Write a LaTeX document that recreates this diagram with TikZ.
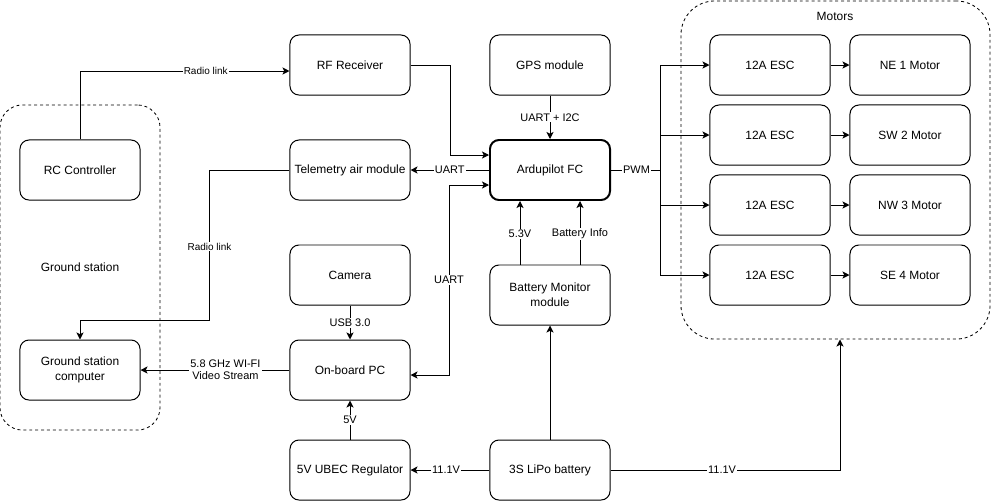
\documentclass[tikz,border=0pt]{standalone}
\usepackage{fontspec}
\setmainfont{Liberation Sans}
\usetikzlibrary{arrows.meta,calc}

\begin{document}
\begin{tikzpicture}[x=.025cm,y=-.025cm,>={Stealth[length=5pt,width=5pt,inset=1.2pt]},line width=.71pt,
  every node/.style={font=\fontsize{8.5}{10.7}\selectfont},
  box/.style={draw,rounded corners=6.4pt,minimum width=3cm,minimum height=1.5cm,inner sep=1pt,align=center},
  fcbox/.style={box,line width=1.4pt},
  group/.style={draw,dash pattern=on 2.1pt off 2.1pt,line width=.6pt,inner sep=0pt},
  lbl/.style={fill=white,inner sep=.8pt,align=center,font=\fontsize{7.8}{8.8}\selectfont},
  small/.style={lbl,font=\fontsize{7.1}{8}\selectfont},
  link/.style={->}]
\path[use as bounding box] (0,0) rectangle (991,501);

% dashed groups
\node[group,rounded corners=16pt,minimum width=4cm,minimum height=8.125cm] (ground) at (80,267.5) {Ground station};
\node[group,rounded corners=24pt,minimum width=7.725cm,minimum height=8.45cm] (motors) at (835.5,170) {};
\node (motorslbl) at (835,16) {Motors};

\node[box] (rf) at (350,65) {RF Receiver};
\node[box] (gps) at (550,65) {GPS module};
\node[box] (tel) at (350,170) {Telemetry air module};
\node[fcbox] (fc) at (550,170) {Ardupilot FC};
\node[box] (cam) at (350,275) {Camera};
\node[box] (bm) at (550,295) {Battery Monitor\\module};
\node[box] (pc) at (350,370) {On-board PC};
\node[box] (ubec) at (350,470) {5V UBEC Regulator};
\node[box] (lipo) at (550,470) {3S LiPo battery};
\node[box] (rc) at (80,170) {RC Controller};
\node[box] (gsc) at (80,370) {Ground station\\computer};
\coordinate (pwm) at (660,170);

% links
\draw[link] (rc.north) |- node[small,pos=.8]{Radio link} ($(rf.west)+(0,6)$);
\draw[link] (rf.east) -- ++(40,0) |- ($(fc.west)+(0,-15)$);
\draw[link] (gps) -- node[lbl]{UART + I2C} (fc);
\draw[link] (fc) -- node[lbl]{UART} (tel);
\draw[link] (tel.west) -- ++(-80,0) -- node[small,pos=.51]{Radio link} ++(0,150) -| (gsc.north);
\draw[<->] ($(fc.west)+(0,15)$) -- ++(-40,0) -- node[lbl]{UART} ++(0,190) -- ($(pc.east)+(0,5)$);
\draw[link] (cam) -- node[lbl]{USB 3.0} (pc);
\draw[link] (pc) -- node[lbl,pos=.43]{5.8 GHz WI-FI\\Video Stream} (gsc);
\draw[link] (ubec) -- node[lbl]{5V} (pc);
\draw[link] (lipo) -- node[lbl,pos=.55]{11.1V} (ubec);
\draw[link] (lipo) -- (bm);
\draw[link] ($(bm.north)+(-30,0)$) -- node[lbl,pos=.48]{5.3V} ($(fc.south)+(-30,0)$);
\draw[link] ($(bm.north)+(30,0)$) -- node[lbl,pos=.48]{Battery Info} ($(fc.south)+(30,0)$);
\draw[link] (lipo.east) -| node[lbl,pos=.243]{11.1V} ($(motors.south)+(4.5,0)$);
\draw (fc.east) -- node[lbl,pos=.52]{PWM} (pwm);

\foreach \i/\y/\m in {1/65/NE 1,2/135/SW 2,3/205/NW 3,4/275/SE 4} {
  \node[box] (esc\i) at (770,\y) {12A ESC};
  \node[box] (mot\i) at (910,\y) {\m\ Motor};
  \draw[link] (esc\i) -- (mot\i);
  \draw[link] (pwm) |- (esc\i);
}

\end{tikzpicture}
\end{document}
